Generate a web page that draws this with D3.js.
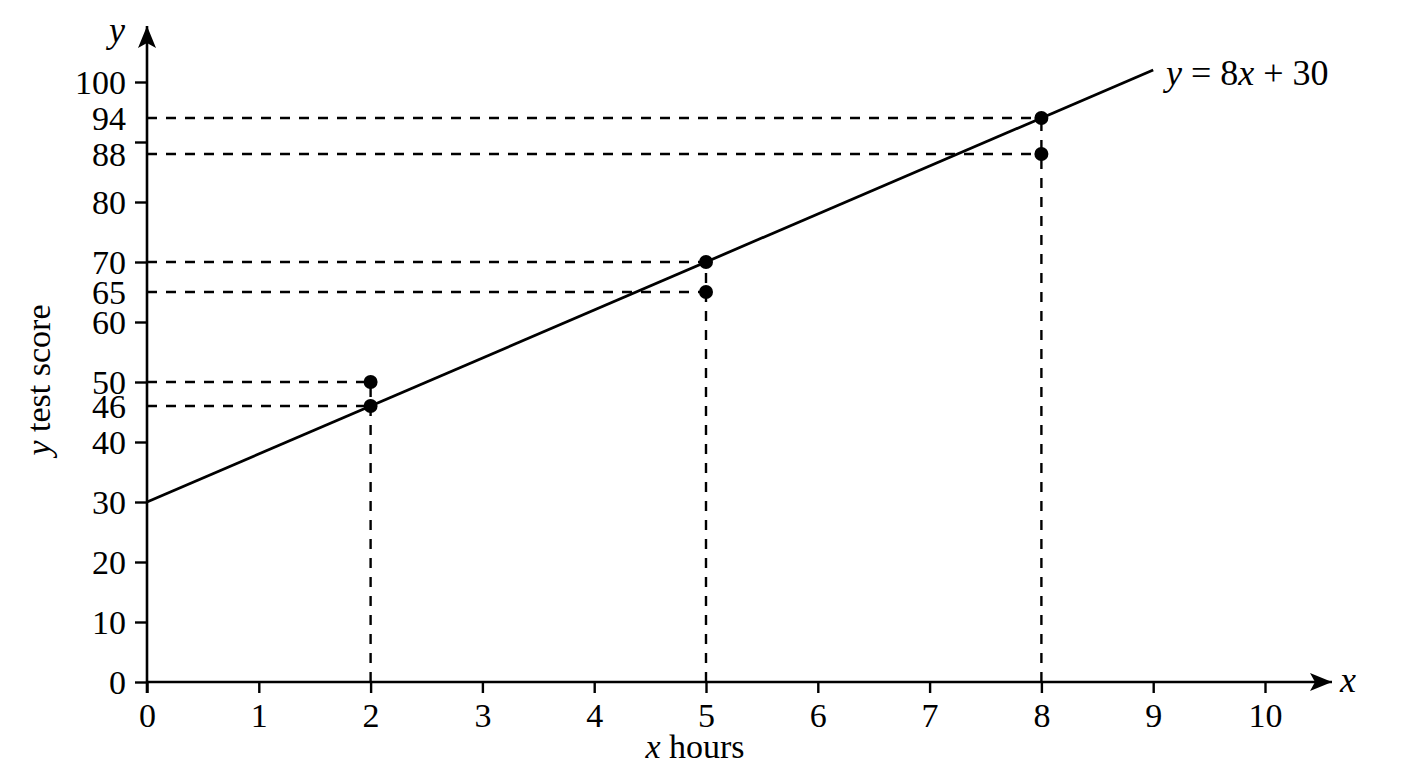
<!DOCTYPE html>
<html>
<head>
<meta charset="utf-8">
<script src="https://cdn.jsdelivr.net/npm/d3@7"></script>
<style>
	body { margin: 0; background: #fff; }
	svg { display: block; }
	text { font-family: "Liberation Serif", "Times New Roman", serif; fill: #000; }
	.tick text { font-size: 34px; }
	.tick line { stroke: #000; stroke-width: 2.4; }
</style>
</head>
<body>
<svg id="chart"></svg>
<script>
const width = 1408
const height = 768

// data
const points = [
	{ x: 2, y: 46 }, { x: 2, y: 50 },
	{ x: 5, y: 65 }, { x: 5, y: 70 },
	{ x: 8, y: 88 }, { x: 8, y: 94 }
]
const lineSlope = 8
const lineIntercept = 30
const lineRange = [0, 9]
const xTicks = [0, 1, 2, 3, 4, 5, 6, 7, 8, 9, 10]
const yTicks = [0, 10, 20, 30, 40, 50, 60, 70, 80, 90, 100]
const yHiddenLabels = [90]
const yExtraLabels = [94, 88, 65, 46]

const x = d3.scaleLinear().domain([0, 10]).range([147, 1265])
const y = d3.scaleLinear().domain([0, 100]).range([682, 82])

const svg = d3.select("#chart")
	.attr("width", width)
	.attr("height", height)

svg.append("defs").append("marker")
	.attr("id", "arrow")
	.attr("viewBox", "0 0 22 18")
	.attr("refX", 22)
	.attr("refY", 9)
	.attr("markerWidth", 22)
	.attr("markerHeight", 18)
	.attr("markerUnits", "userSpaceOnUse")
	.attr("orient", "auto")
	.append("path")
	.attr("d", "M0,0 L22,9 L0,18 L5,9 Z")
	.attr("fill", "#000")

// dashed guides: horizontal to each point, vertical from 0 to the top point
const guides = svg.append("g")
	.attr("stroke", "#000")
	.attr("stroke-width", 2.4)
	.attr("stroke-dasharray", "10,9")
	.attr("fill", "none")

guides.selectAll(".h-guide")
	.data(points)
	.enter().append("line")
	.attr("class", "h-guide")
	.attr("x1", x(0))
	.attr("x2", d => x(d.x))
	.attr("y1", d => y(d.y))
	.attr("y2", d => y(d.y))

const tops = d3.rollups(points, v => d3.max(v, d => d.y), d => d.x)
guides.selectAll(".v-guide")
	.data(tops)
	.enter().append("line")
	.attr("class", "v-guide")
	.attr("x1", d => x(d[0]))
	.attr("x2", d => x(d[0]))
	.attr("y1", y(0))
	.attr("y2", d => y(d[1]))

// x axis
const xAxis = svg.append("g")
	.attr("transform", `translate(0,${y(0)})`)
	.call(d3.axisBottom(x).tickValues(xTicks).tickSize(11).tickPadding(7).tickFormat(d3.format("d")))
xAxis.select(".domain").remove()
xAxis.selectAll(".tick text").attr("dy", "0.78em")

// y axis
const yAxis = svg.append("g")
	.attr("transform", `translate(${x(0)},0)`)
	.call(d3.axisLeft(y).tickValues(yTicks).tickSize(12).tickPadding(9)
		.tickFormat(d => yHiddenLabels.includes(d) ? "" : d))
yAxis.select(".domain").remove()

const yAxisExtra = svg.append("g")
	.attr("transform", `translate(${x(0)},0)`)
	.call(d3.axisLeft(y).tickValues(yExtraLabels).tickSize(0).tickPadding(21))
yAxisExtra.select(".domain").remove()
yAxis.selectAll(".tick text").attr("dy", "0.34em")
yAxisExtra.selectAll(".tick text").attr("dy", "0.34em")

// axis lines with arrows
svg.append("line")
	.attr("x1", x(0)).attr("x2", 1332)
	.attr("y1", y(0)).attr("y2", y(0))
	.attr("stroke", "#000").attr("stroke-width", 2.6)
	.attr("marker-end", "url(#arrow)")
svg.append("line")
	.attr("x1", x(0)).attr("x2", x(0))
	.attr("y1", y(0) + 11).attr("y2", 26)
	.attr("stroke", "#000").attr("stroke-width", 2.6)
	.attr("marker-end", "url(#arrow)")

svg.append("text")
	.attr("x", 1340).attr("y", 692)
	.style("font-size", "36px").style("font-style", "italic")
	.text("x")
svg.append("text")
	.attr("x", 109).attr("y", 42)
	.style("font-size", "36px").style("font-style", "italic")
	.text("y")

// regression line
const lineData = lineRange.map(v => ({ x: v, y: lineSlope * v + lineIntercept }))
svg.append("path")
	.datum(lineData)
	.attr("d", d3.line().x(d => x(d.x)).y(d => y(d.y)))
	.attr("stroke", "#000")
	.attr("stroke-width", 2.8)
	.attr("fill", "none")

const eq = svg.append("text")
	.attr("x", 1166).attr("y", 85)
	.style("font-size", "36px")
eq.append("tspan").style("font-style", "italic").text("y")
eq.append("tspan").text(" = 8")
eq.append("tspan").style("font-style", "italic").text("x")
eq.append("tspan").text(` + ${lineIntercept}`)

// points
svg.selectAll(".point")
	.data(points)
	.enter().append("circle")
	.attr("class", "point")
	.attr("cx", d => x(d.x))
	.attr("cy", d => y(d.y))
	.attr("r", 7)
	.attr("fill", "#000")

// axis titles
const xTitle = svg.append("text")
	.attr("x", 695).attr("y", 758)
	.attr("text-anchor", "middle")
	.style("font-size", "34px")
xTitle.append("tspan").style("font-style", "italic").text("x")
xTitle.append("tspan").text(" hours")

const yTitle = svg.append("text")
	.attr("transform", "translate(50,380) rotate(-90)")
	.attr("text-anchor", "middle")
	.style("font-size", "34px")
yTitle.append("tspan").style("font-style", "italic").text("y")
yTitle.append("tspan").text(" test score")
</script>
</body>
</html>
